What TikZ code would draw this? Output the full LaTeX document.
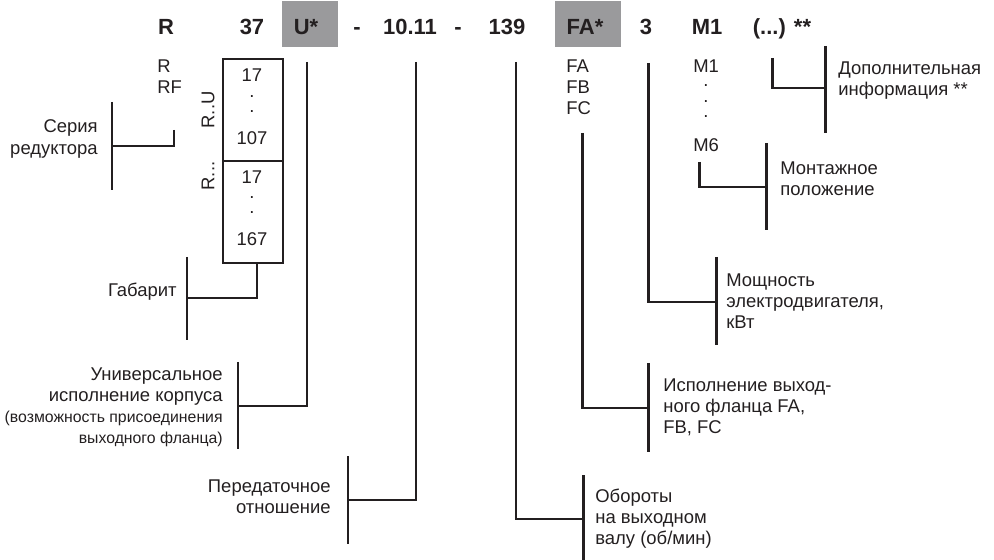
\documentclass[tikz,border=0pt]{standalone}
\usepackage{fontspec}
\setmainfont{Liberation Sans}
\definecolor{ink}{RGB}{35,31,32}
\definecolor{boxgray}{RGB}{154,154,156}
\tikzset{
  lead/.style = {draw=ink, line width=1.7pt},
  code/.style = {inner sep=0pt, anchor=base, text=ink,
                 font=\fontsize{12.5}{14}\selectfont\bfseries},
  txt/.style  = {inner sep=0pt, text=ink, font=\fontsize{10.5}{12}\selectfont},
  note/.style = {inner sep=0pt, text=ink, font=\fontsize{9}{12.2}\selectfont},
  dotmark/.style = {txt, anchor=base, text height=0.15em, text depth=0pt}
}

\begin{document}
\begin{tikzpicture}[x=0.02cm, y=-0.02cm]
	\useasboundingbox (0,0) rectangle (994,560);
	\def \base{35}
	
	% Code line
	\fill[boxgray] (282,1) rectangle (338,47); % U*
	\fill[boxgray] (555,1) rectangle (621,47); % FA*
	\node[code] (cR)    at (166,\base) {R};
	\node[code] (c37)   at (252,\base) {37};
	\node[code] (cU)    at (306,\base) {U*};
	\node[code] (cd1)   at (357,\base) {-};
	\node[code] (cI)    at (410,\base) {10.11};
	\node[code] (cd2)   at (458,\base) {-};
	\node[code] (cN)    at (507,\base) {139};
	\node[code] (cFA)   at (585,\base) {FA*};
	\node[code] (cP)    at (646,\base) {3};
	\node[code] (cM)    at (707,\base) {M1};
	\node[code] (cX)    at (782,\base) {(...) **};
	
	% Options
	\node[txt, anchor=west, align=left] (series) at (157,77) {R\\RF};
	\node[txt, anchor=west, align=left] (flanges) at (566,87) {FA\\FB\\FC};
	\node[txt, anchor=west] (m1) at (693,66) {M1};
	\node[txt, anchor=west] (m6) at (693,145) {M6};
	\foreach \y in {87,103,118}
		\node[dotmark] (mdot\y) at (706,\y) {.};
	
	% Sizes box
	\draw[lead] (223,59) rectangle (283,263);
	\draw[lead] (223,161) -- (283,161);
	\node[txt] (s17a)  at (252,75)  {17};
	\node[txt] (s107)  at (252,138) {107};
	\node[txt] (s17b)  at (252,177) {17};
	\node[txt] (s167)  at (252,239) {167};
	\foreach \y in {98,113,199,214}
		\node[dotmark] (sdot\y) at (252,\y) {.};
	\node[txt, rotate=90] (rU) at (208,110) {R..U};
	\node[txt, rotate=90] (rR) at (208,176) {R...};
	
	% Leads
	\coordinate (ser-end)  at (174,130);  \coordinate (ser-mid)  at (112,146);
	\coordinate (gab-end)  at (257,263);  \coordinate (gab-mid)  at (187,298);
	\coordinate (uni-end)  at (307,62);   \coordinate (uni-mid)  at (238,406);
	\coordinate (rat-end)  at (416,62);   \coordinate (rat-mid)  at (348,500);
	\coordinate (spd-end)  at (516,62);   \coordinate (spd-mid)  at (583,519);
	\coordinate (fla-end)  at (582,133);  \coordinate (fla-mid)  at (648,408);
	\coordinate (pow-end)  at (648,63);   \coordinate (pow-mid)  at (716,302);
	\coordinate (mnt-end)  at (699,162);  \coordinate (mnt-mid)  at (766,187);
	\coordinate (ext-end)  at (772,58);   \coordinate (ext-mid)  at (825,88);
	
	\draw[lead] (ser-end) |- (ser-mid);
	\draw[lead] (gab-end) |- (gab-mid);
	\draw[lead] (uni-end) |- (uni-mid);
	\draw[lead] (rat-end) |- (rat-mid);
	\draw[lead] (spd-end) |- (spd-mid);
	\draw[lead] (fla-end) |- (fla-mid);
	\draw[lead] (pow-end) |- (pow-mid);
	\draw[lead] (mnt-end) |- (mnt-mid);
	\draw[lead] (ext-end) |- (ext-mid);
	
	% Brackets
	\draw[lead] (ser-mid) ++(0,-44) -- ++(0,88);
	\draw[lead] (gab-mid) ++(0,-41) -- ++(0,83);
	\draw[lead] (uni-mid) ++(0,-44) -- ++(0,87);
	\draw[lead] (rat-mid) ++(0,-44) -- ++(0,88);
	\draw[lead] (spd-mid) ++(0,-44) -- ++(0,85);
	\draw[lead] (fla-mid) ++(0,-45) -- ++(0,89);
	\draw[lead] (pow-mid) ++(0,-45) -- ++(0,88);
	\draw[lead] (mnt-mid) ++(0,-44) -- ++(0,87);
	\draw[lead] (ext-mid) ++(0,-42) -- ++(0,87);
	
	% Labels
	\node[txt, anchor=east, align=right] (lser) at (98,139) {Серия\\редуктора};
	\node[txt, anchor=east] (lgab) at (177,292) {Габарит};
	\node[txt, anchor=east, align=right] (luni) at (223,387) {Универсальное\\исполнение корпуса};
	\node[note, anchor=east, align=right] (lunin) at (223,429) {(возможность присоединения\\выходного фланца)};
	\node[txt, anchor=east, align=right] (lrat) at (331,497) {Передаточное\\отношение};
	\node[txt, anchor=west, align=left] (lspd) at (595,519) {Обороты\\на выходном\\валу (об/мин)};
	\node[txt, anchor=west, align=left] (lfla) at (663,407) {Исполнение выход-\\ного фланца FA,\\FB, FC};
	\node[txt, anchor=west, align=left] (lpow) at (726,301) {Мощность\\электродвигателя,\\кВт};
	\node[txt, anchor=west, align=left] (lmnt) at (780,179) {Монтажное\\положение};
	\node[txt, anchor=west, align=left] (lext) at (838,81) {Дополнительная\\информация **};
	
\end{tikzpicture}
\end{document}
